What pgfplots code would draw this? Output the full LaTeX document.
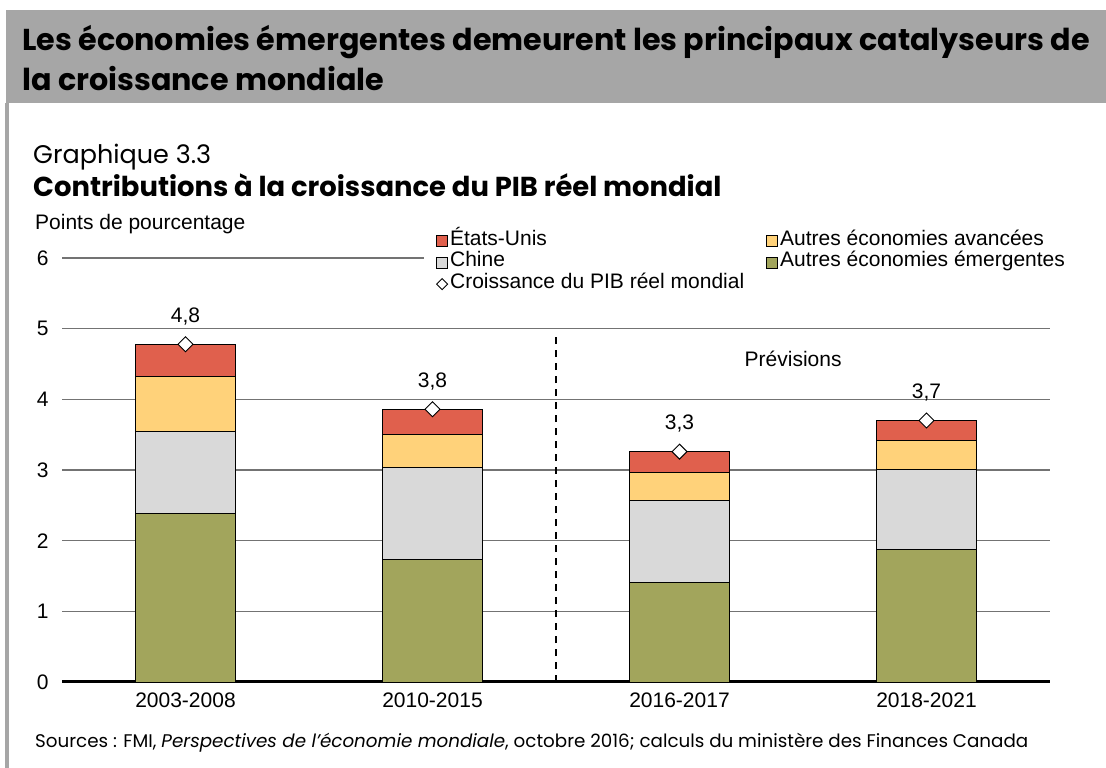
\documentclass[border=0pt]{standalone}
\usepackage{pgfplots}
\pgfplotsset{compat=1.18}
\usepackage{fontspec}
\setmainfont{Liberation Sans}
\newfontfamily\gothic{Poppins}

\definecolor{bandeau}{HTML}{A6A6A6}
\definecolor{cUS}{HTML}{E0604D}
\definecolor{cAutAv}{HTML}{FFD27A}
\definecolor{cChine}{HTML}{D9D9D9}
\definecolor{cAutEm}{HTML}{A2A55C}

\pgfplotsset{
  cadre/.style={at={(62pt,-682pt)},anchor=south west,
      scale only axis,width=988pt,height=424pt,
      xmin=-0.5,xmax=3.5,ymin=0,ymax=6},
}
\newcommand\carre[1]{\addlegendimage{legend image code/.code={%
    \draw[black,fill=#1,line width=0.9pt] (0pt,-5.5pt) rectangle (11pt,5.5pt);}}}

\begin{document}
\begin{tikzpicture}[x=1pt,y=-1pt]
\path[use as bounding box] (0,0) rectangle (1106,768);
% bandeau du titre
\fill[bandeau] (6,10) rectangle (1106,103);
\fill[bandeau] (5,103) rectangle (9,768);
\node[anchor=base west,inner sep=0,font=\gothic\bfseries\fontsize{30.2}{34}\selectfont]
  at (22,51) {Les économies émergentes demeurent les principaux catalyseurs de};
\node[anchor=base west,inner sep=0,font=\gothic\bfseries\fontsize{30.2}{34}\selectfont]
  at (22,91) {la croissance mondiale};
\node[anchor=base west,inner sep=0,font=\gothic\fontsize{25.5}{30}\selectfont]
  at (33,163) {Graphique 3.3};
\node[anchor=base west,inner sep=0,font=\gothic\bfseries\fontsize{27.4}{32}\selectfont]
  at (33,196) {Contributions à la croissance du PIB réel mondial};
\node[anchor=base west,inner sep=0,font=\fontsize{21}{24}\selectfont]
  at (35,229) {Points de pourcentage};
\node[anchor=base west,inner sep=0,font=\gothic\fontsize{18.3}{22}\selectfont]
  at (35,747) {Sources : FMI, \textit{Perspectives de l’économie mondiale}, octobre 2016; calculs du ministère des Finances Canada};

\begin{axis}[cadre,
    ybar stacked,bar width=100pt,
    axis line style={draw=none},
    major tick length=0pt,
    ytick={0,...,6},
    xtick={0,1,2,3},
    xticklabels={2003-2008,2010-2015,2016-2017,2018-2021},
    ymajorgrids,
    grid style={black!55,line width=1.3pt},
    /pgf/number format/assume math mode=true,
    tick label style={font=\fontsize{21}{24}\selectfont},
    yticklabel style={xshift=-10pt},
    xticklabel style={yshift=-7pt},
    legend style={at={(0.3664,1.068)},anchor=north west,draw=none,fill=white,
        inner xsep=12pt,inner ysep=1pt,
        font=\fontsize{21}{24}\selectfont,
        nodes={inner xsep=2pt,inner ysep=0pt,text height=15pt,text depth=6.5pt},
        /tikz/every even column/.append style={column sep=20pt}},
    legend columns=2,
    legend cell align=left,
  ]
  % empilement : autres émergentes, Chine, autres avancées, États-Unis
  \addplot[fill=cAutEm,draw=black,line width=0.9pt,forget plot]
    coordinates {(0,2.39) (1,1.74) (2,1.41) (3,1.87)};
  \addplot[fill=cChine,draw=black,line width=0.9pt,forget plot]
    coordinates {(0,1.16) (1,1.29) (2,1.16) (3,1.14)};
  \addplot[fill=cAutAv,draw=black,line width=0.9pt,forget plot]
    coordinates {(0,0.78) (1,0.47) (2,0.40) (3,0.41)};
  \addplot[fill=cUS,draw=black,line width=0.9pt,forget plot]
    coordinates {(0,0.45) (1,0.36) (2,0.29) (3,0.28)};

  \carre{cUS}
  \addlegendentry{États-Unis}
  \carre{cAutAv}
  \addlegendentry{Autres économies avancées}
  \carre{cChine}
  \addlegendentry{Chine}
  \carre{cAutEm}
  \addlegendentry{Autres économies émergentes}
  \addlegendimage{legend image code/.code={%
      \draw[black,fill=white,line width=0.9pt]
        (0pt,0pt)--(5.5pt,5.5pt)--(11pt,0pt)--(5.5pt,-5.5pt)--cycle;}}
  \addlegendentry{Croissance du PIB réel mondial}

  \draw[black,line width=2pt,dash pattern=on 7pt off 6pt]
    (axis cs:1.5,0) -- (axis cs:1.5,4.96);
  \node[font=\fontsize{21}{24}\selectfont] at (axis cs:2.46,4.57) {Prévisions};
  \draw[black,line width=4pt] (axis cs:-0.5,0) -- (axis cs:3.5,0);
\end{axis}

% croissance du PIB réel mondial
\begin{axis}[cadre,hide axis,clip=false]
  \addplot[only marks,mark=square*,mark size=5.3pt,
      mark options={rotate=45,fill=white,draw=black,line width=0.9pt},
      point meta=explicit symbolic,nodes near coords,
      nodes near coords style={anchor=center,yshift=28pt,
        font=\fontsize{21}{24}\selectfont}]
    coordinates {(0,4.78)[4,8] (1,3.86)[3,8] (2,3.26)[3,3] (3,3.70)[3,7]};
\end{axis}
\end{tikzpicture}
\end{document}
